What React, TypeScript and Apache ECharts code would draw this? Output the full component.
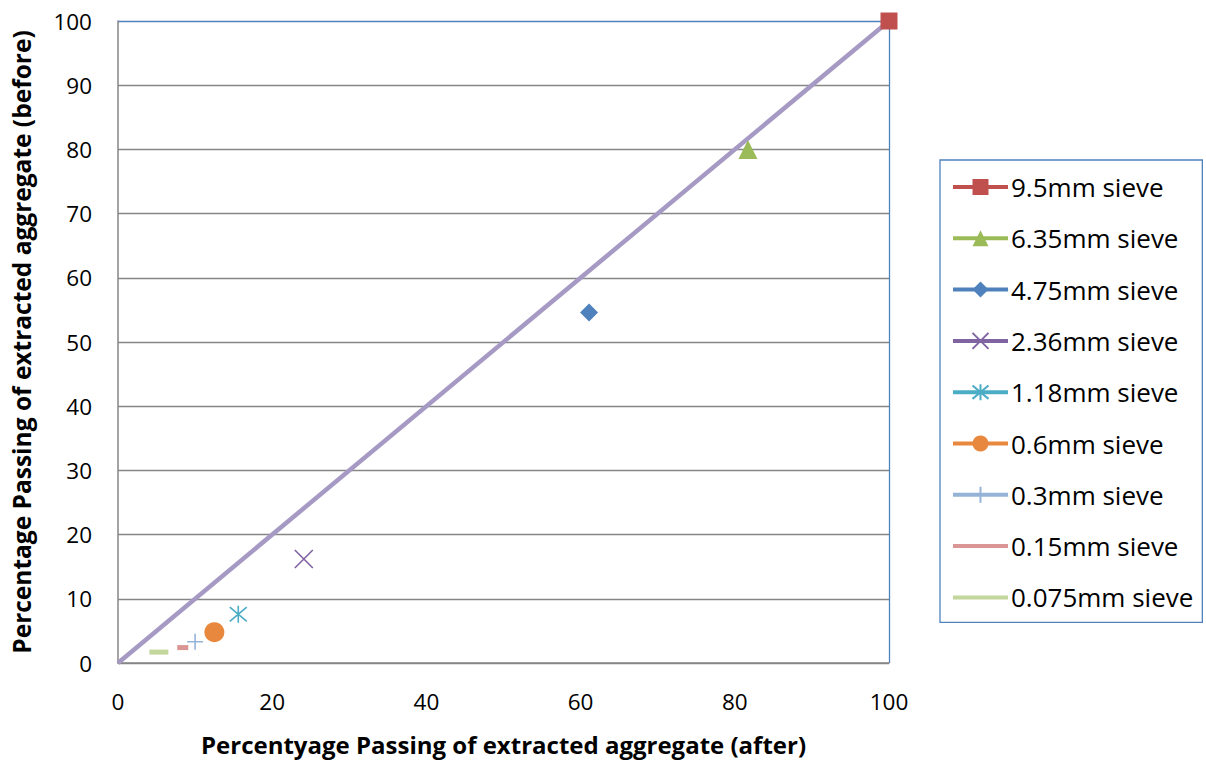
import React, { useEffect, useRef } from "react";
import * as echarts from "echarts";

const seriesNames = [
  "9.5mm sieve",
  "6.35mm sieve",
  "4.75mm sieve",
  "2.36mm sieve",
  "1.18mm sieve",
  "0.6mm sieve",
  "0.3mm sieve",
  "0.15mm sieve",
  "0.075mm sieve",
];
const afterValues = [100, 81.7, 61.1, 24.1, 15.6, 12.5, 10.0, 8.4, 5.3];
const beforeValues = [100, 80.0, 54.6, 16.2, 7.6, 4.8, 3.3, 2.4, 1.7];
const seriesColors = [
  "#C0504D",
  "#9BBB59",
  "#4F81BD",
  "#8064A2",
  "#4BACC6",
  "#E8883E",
  "#95B3D7",
  "#D99694",
  "#C3D69B",
];
const equalityLine = [
  [0, 0],
  [100, 100],
];

const FONT = "'Open Sans', 'Noto Sans', sans-serif";

const symbols: any[] = [
  { symbol: "rect", size: 17, stroke: false, dash: false },
  { symbol: "triangle", size: 19, stroke: false, dash: false },
  { symbol: "diamond", size: 18, stroke: false, dash: false },
  { symbol: "path://M0 0L10 10M10 0L0 10", size: 18, stroke: true, dash: false },
  { symbol: "path://M0 0L10 10M10 0L0 10M5 -1L5 11", size: 17, stroke: true, dash: false },
  { symbol: "circle", size: 20, stroke: false, dash: false },
  { symbol: "path://M0 5L10 5M5 0L5 10", size: 16, stroke: true, dash: false },
  { symbol: "rect", size: [11, 5], stroke: false, dash: true },
  { symbol: "rect", size: [19, 5], stroke: false, dash: true },
];

export default function App() {
  const ref = useRef<HTMLDivElement>(null);
  useEffect(() => {
    if (!ref.current) return;
    const chart = echarts.init(ref.current, undefined, { renderer: "svg" });
    const gridColorsY = [
      "#868686", "#868686", "#868686", "#868686", "#868686", "#868686",
      "#868686", "#868686", "#868686", "#868686", "#4F81BD",
    ];
    const gridColorsX = [
      "rgba(0,0,0,0)", "rgba(0,0,0,0)", "rgba(0,0,0,0)", "rgba(0,0,0,0)",
      "rgba(0,0,0,0)", "#4F81BD",
    ];
    const series: any[] = seriesNames.map((name, i) => ({
      name,
      type: "line",
      data: [[afterValues[i], beforeValues[i]]],
      symbol: symbols[i].symbol,
      symbolSize: symbols[i].size,
      showSymbol: true,
      lineStyle: { color: seriesColors[i], width: 4 },
      itemStyle: symbols[i].stroke
        ? { color: seriesColors[i], borderColor: seriesColors[i], borderWidth: 1.6 }
        : { color: seriesColors[i] },
      z: 5,
    }));
    series.push({
      name: "equality",
      type: "line",
      data: equalityLine,
      symbol: "none",
      lineStyle: { color: "#A69AC4", width: 4.5 },
      z: 3,
    });
    const legendData = seriesNames.map((name, i) =>
      symbols[i].dash ? { name, itemStyle: { opacity: 0 } } : { name }
    );
    chart.setOption({
      animation: false,
      backgroundColor: "#ffffff",
      grid: { left: 118, right: 317, top: 21, bottom: 97 },
      xAxis: {
        type: "value",
        min: 0,
        max: 100,
        interval: 20,
        name: "Percentyage Passing of extracted aggregate (after)",
        nameLocation: "middle",
        nameGap: 69,
        nameTextStyle: { fontFamily: FONT, fontSize: 24, fontWeight: "bold", color: "#000" },
        axisLine: { show: true, lineStyle: { color: "#868686", width: 1.5 } },
        axisTick: { show: false },
        axisLabel: { fontFamily: FONT, fontSize: 22.5, color: "#000", margin: 27 },
        splitLine: { show: true, lineStyle: { color: gridColorsX, width: 1.3 } },
      },
      yAxis: {
        type: "value",
        min: 0,
        max: 100,
        interval: 10,
        name: "Percentage Passing of extracted aggregate (before)",
        nameLocation: "middle",
        nameGap: 84,
        nameTextStyle: { fontFamily: FONT, fontSize: 24.5, fontWeight: "bold", color: "#000" },
        axisLine: { show: true, lineStyle: { color: "#868686", width: 1.5 } },
        axisTick: { show: false },
        axisLabel: { fontFamily: FONT, fontSize: 22.5, color: "#000", margin: 26 },
        splitLine: { show: true, lineStyle: { color: gridColorsY, width: 1.3 } },
      },
      legend: {
        data: legendData,
        orient: "vertical",
        left: 940,
        top: 160,
        padding: [14, 9, 12, 11],
        itemGap: 25.3,
        itemWidth: 55,
        itemHeight: 20,
        borderColor: "#4F81BD",
        borderWidth: 1.3,
        lineStyle: { width: 4 },
        textStyle: { fontFamily: FONT, fontSize: 26, color: "#000", padding: [0, 0, 0, -2] },
      },
      series,
    });
    return () => chart.dispose();
  }, []);
  return (
    <div
      ref={ref}
      style={{ position: "absolute", left: 0, top: 0, width: 1206, height: 761 }}
    />
  );
}
